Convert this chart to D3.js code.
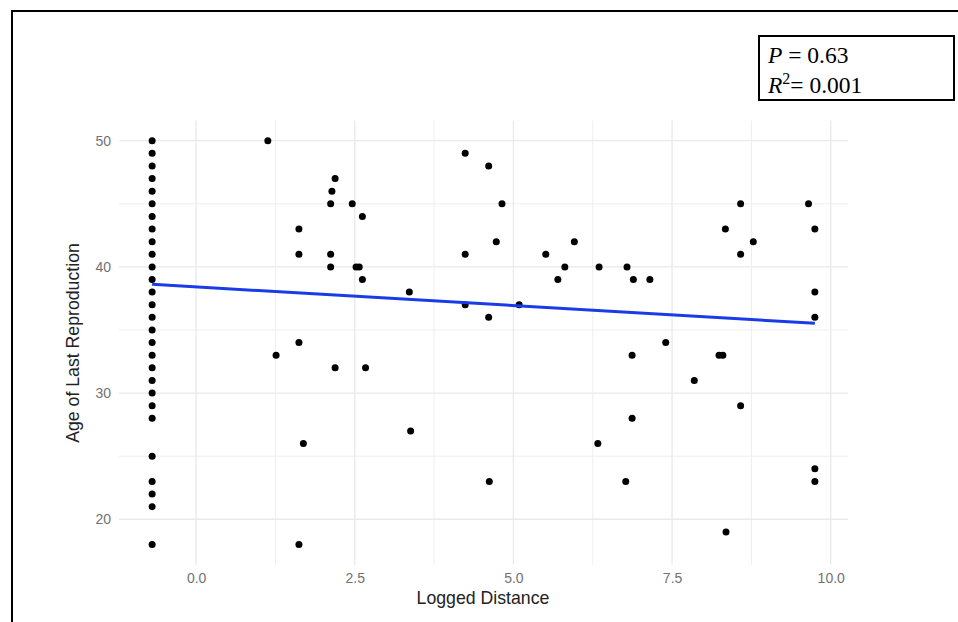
<!DOCTYPE html>
<html>
<head>
<meta charset="utf-8">
<script src="https://cdn.jsdelivr.net/npm/d3@7"></script>
<style>
  body { margin: 0; background: #fff; }
  svg { display: block; }
</style>
</head>
<body>
<div id="chart"></div>
<script>
// logged distance (x) and age of last reproduction (y)
var distX = [
  -0.693, -0.693, -0.693, -0.693, -0.693, -0.693, -0.693, -0.693, -0.693, -0.693,
  -0.693, -0.693, -0.693, -0.693, -0.693, -0.693, -0.693, -0.693, -0.693, -0.693,
  -0.693, -0.693, -0.693, -0.693, -0.693, -0.693, -0.693, -0.693,
  1.13, 1.26, 1.62, 1.62, 1.62, 1.69, 1.62, 2.19, 2.14, 2.12, 2.12, 2.12, 2.19,
  2.46, 2.62, 2.52, 2.57, 2.62, 2.67, 3.36, 3.38, 4.24, 4.61, 4.82, 4.73, 4.24,
  4.24, 4.61, 4.62, 5.09, 5.51, 5.70, 5.81, 5.96, 6.35, 6.33, 6.79, 6.89, 6.87,
  6.87, 6.77, 7.15, 7.40, 7.85, 8.24, 8.30, 8.34, 8.35, 8.58, 8.58, 8.58, 8.78,
  9.65, 9.75, 9.75, 9.75, 9.75, 9.75
];
var ageY = [
  50, 49, 48, 47, 46, 45, 44, 43, 42, 41,
  40, 39, 38, 37, 36, 35, 34, 33, 32, 31,
  30, 29, 28, 25, 23, 22, 21, 18,
  50, 33, 43, 41, 34, 26, 18, 47, 46, 45, 41, 40, 32,
  45, 44, 40, 40, 39, 32, 38, 27, 49, 48, 45, 42, 41,
  37, 36, 23, 37, 41, 39, 40, 42, 40, 26, 40, 39, 33,
  28, 23, 39, 34, 31, 33, 33, 43, 19, 45, 41, 29, 42,
  45, 43, 38, 36, 24, 23
];
// fitted line (lm) end points
var fitX = [-0.693, 9.75];
var fitY = [38.62, 35.53];

var xTicks = [0, 2.5, 5, 7.5, 10];
var xMinor = [-1.25, 1.25, 3.75, 6.25, 8.75];
var yTicks = [20, 30, 40, 50];
var yMinor = [25, 35, 45];

var statLines = [["P", " = 0.63", ""], ["R", "= 0.001", "2"]];

var W = 958, H = 622;
var svg = d3.select('#chart').append('svg').attr('width', W).attr('height', H);

// ggplot style 5% expansion
var xr = d3.extent(distX), yr = d3.extent(ageY);
var xp = (xr[1] - xr[0]) * 0.05, yp = (yr[1] - yr[0]) * 0.05;
var x = d3.scaleLinear().domain([xr[0] - xp, xr[1] + xp]).range([119, 848]);
var y = d3.scaleLinear().domain([yr[0] - yp, yr[1] + yp]).range([564.7, 120.5]);

var grid = svg.append('g');
grid.selectAll('.vminor').data(xMinor.filter(function(d) { return d >= x.domain()[0]; }))
  .enter().append('line')
  .attr('x1', function(d) { return x(d); }).attr('x2', function(d) { return x(d); })
  .attr('y1', y.range()[1]).attr('y2', y.range()[0])
  .attr('stroke', '#eeeeee').attr('stroke-width', 1);
grid.selectAll('.hminor').data(yMinor).enter().append('line')
  .attr('x1', x.range()[0]).attr('x2', x.range()[1])
  .attr('y1', function(d) { return y(d); }).attr('y2', function(d) { return y(d); })
  .attr('stroke', '#eeeeee').attr('stroke-width', 1);
grid.selectAll('.vmajor').data(xTicks).enter().append('line')
  .attr('x1', function(d) { return x(d); }).attr('x2', function(d) { return x(d); })
  .attr('y1', y.range()[1]).attr('y2', y.range()[0])
  .attr('stroke', '#e9e9e9').attr('stroke-width', 1.3);
grid.selectAll('.hmajor').data(yTicks).enter().append('line')
  .attr('x1', x.range()[0]).attr('x2', x.range()[1])
  .attr('y1', function(d) { return y(d); }).attr('y2', function(d) { return y(d); })
  .attr('stroke', '#e9e9e9').attr('stroke-width', 1.3);

// axes (labels only, like theme_minimal)
var xAxis = svg.append('g').attr('transform', 'translate(0,' + y.range()[0] + ')')
  .call(d3.axisBottom(x).tickValues(xTicks).tickFormat(d3.format('.1f')).tickSize(0).tickPadding(8));
var yAxis = svg.append('g').attr('transform', 'translate(' + x.range()[0] + ',0)')
  .call(d3.axisLeft(y).tickValues(yTicks).tickSize(0).tickPadding(8));
[xAxis, yAxis].forEach(function(a) {
  a.select('.domain').remove();
  a.selectAll('text').attr('font-family', 'Liberation Sans, Arial, sans-serif')
    .attr('font-size', 14).attr('fill', '#727272');
});

svg.append('text').attr('x', 483).attr('y', 604).attr('text-anchor', 'middle')
  .attr('font-family', 'Liberation Sans, Arial, sans-serif').attr('font-size', 17.7).attr('fill', '#222')
  .text('Logged Distance');
svg.append('text').attr('transform', 'translate(79,343) rotate(-90)').attr('text-anchor', 'middle')
  .attr('font-family', 'Liberation Sans, Arial, sans-serif').attr('font-size', 17.7).attr('fill', '#222')
  .text('Age of Last Reproduction');

// points
svg.append('g').selectAll('circle').data(distX).enter().append('circle')
  .attr('cx', function(d) { return x(d); })
  .attr('cy', function(d, i) { return y(ageY[i]); })
  .attr('r', 3.5).attr('fill', '#000');

// fit line
svg.append('path').datum(fitX)
  .attr('d', d3.line().x(function(d) { return x(d); }).y(function(d, i) { return y(fitY[i]); }))
  .attr('stroke', '#1a3ce6').attr('stroke-width', 3).attr('fill', 'none');

// outer frame (top and left visible)
svg.append('path').attr('d', 'M12,' + H + ' L12,11 L' + W + ',11')
  .attr('stroke', '#000').attr('stroke-width', 2).attr('fill', 'none');

// stats box
svg.append('rect').attr('x', 759).attr('y', 36).attr('width', 195).attr('height', 64)
  .attr('fill', '#fff').attr('stroke', '#000').attr('stroke-width', 2);
statLines.forEach(function(s, i) {
  var t = svg.append('text').attr('x', 768).attr('y', 63 + i * 29.5)
    .attr('font-family', 'Liberation Serif, Times New Roman, serif').attr('font-size', 23.5).attr('fill', '#000');
  t.append('tspan').attr('font-style', 'italic').text(s[0]);
  if (s[2]) t.append('tspan').attr('dy', -9).attr('font-size', 16).text(s[2]);
  t.append('tspan').attr('dy', s[2] ? 9 : 0).text(s[1]);
});
</script>
</body>
</html>
